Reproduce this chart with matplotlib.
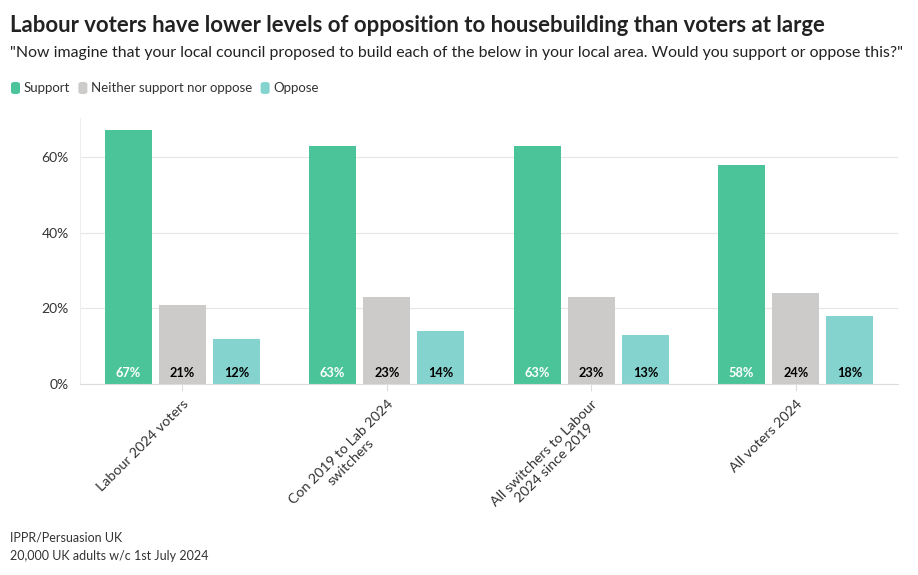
import matplotlib.pyplot as plt
import numpy as np
from matplotlib.patches import FancyBboxPatch

plt.rcParams['font.family'] = ['Lato', 'DejaVu Sans']

# ---------- Data ----------
groups = ["Labour 2024 voters", "Con 2019 to Lab 2024\nswitchers",
          "All switchers to Labour\n2024 since 2019", "All voters 2024"]
series = ["Support", "Neither support nor oppose", "Oppose"]
support = [67, 63, 63, 58]
neither = [21, 23, 23, 24]
oppose = [12, 14, 13, 18]

# ---------- Style ----------
COLORS = ["#4CC49A", "#CDCBC9", "#85D3CF"]
LABEL_COLORS = ["white", "black", "black"]
TEXT = "#222222"

fig = plt.figure(figsize=(9.18, 5.75), dpi=100)
ax = fig.add_axes([80 / 918, 1 - 384 / 575, 818 / 918, 266 / 575])

x = np.arange(len(groups))
w = 0.23
step = 0.265
for i, (vals, c, lc) in enumerate(zip([support, neither, oppose], COLORS, LABEL_COLORS)):
    bars = ax.bar(x + (i - 1) * step, vals, width=w, color=c, zorder=2)
    for b, v in zip(bars, vals):
        ax.text(b.get_x() + b.get_width() / 2, 1.2, f"{v}%", ha="center", va="bottom",
                fontsize=9.2, fontweight="bold", color=lc, zorder=3)

ax.set_xlim(-0.5, 3.5)
ax.set_ylim(0, 70.3)
ax.set_yticks([0, 20, 40, 60])
ax.set_yticklabels(["0%", "20%", "40%", "60%"], fontsize=10, color="#333333")
ax.yaxis.grid(True, color="#E6E6E6", linewidth=0.8, zorder=0)
ax.tick_params(axis="y", length=0, pad=8)
ax.tick_params(axis="x", length=5, color="#DDDDDD", width=0.8, pad=5)
ax.set_xticks(x)
ax.set_xticklabels(groups, rotation=45, ha="right", rotation_mode="anchor",
                   fontsize=10.3, color="#333333", multialignment="center")
for s in ["top", "right"]:
    ax.spines[s].set_visible(False)
ax.spines["left"].set_color("#EEEEEE")
ax.spines["bottom"].set_color("#DDDDDD")

# ---------- Titles ----------
fig.text(10 / 918, 1 - 25 / 575, "Labour voters have lower levels of opposition to housebuilding than voters at large",
         fontsize=15.9, fontweight="bold", color=TEXT, va="center")
fig.text(10 / 918, 1 - 53 / 575,
         "\"Now imagine that your local council proposed to build each of the below in your local area. Would you support or oppose this?\"",
         fontsize=11.4, color=TEXT, va="center")

# ---------- Legend ----------
lx = 11
for name, c in zip(series, COLORS):
    fig.patches.append(FancyBboxPatch((lx / 918, 1 - 94 / 575), 9 / 918, 12 / 575,
                                      boxstyle="round,pad=0,rounding_size=0.004",
                                      transform=fig.transFigure, facecolor=c, edgecolor="none"))
    t = fig.text((lx + 13) / 918, 1 - 88 / 575, name, fontsize=9.5, color="#333333", va="center")
    fig.canvas.draw()
    bb = t.get_window_extent()
    lx = bb.x1 + 8

# ---------- Footer ----------
fig.text(10 / 918, 1 - 538 / 575, "IPPR/Persuasion UK", fontsize=9, color="#333333", va="center")
fig.text(10 / 918, 1 - 556 / 575, "20,000 UK adults w/c 1st July 2024", fontsize=9, color="#333333", va="center")

fig.savefig("out.png", dpi=100)
